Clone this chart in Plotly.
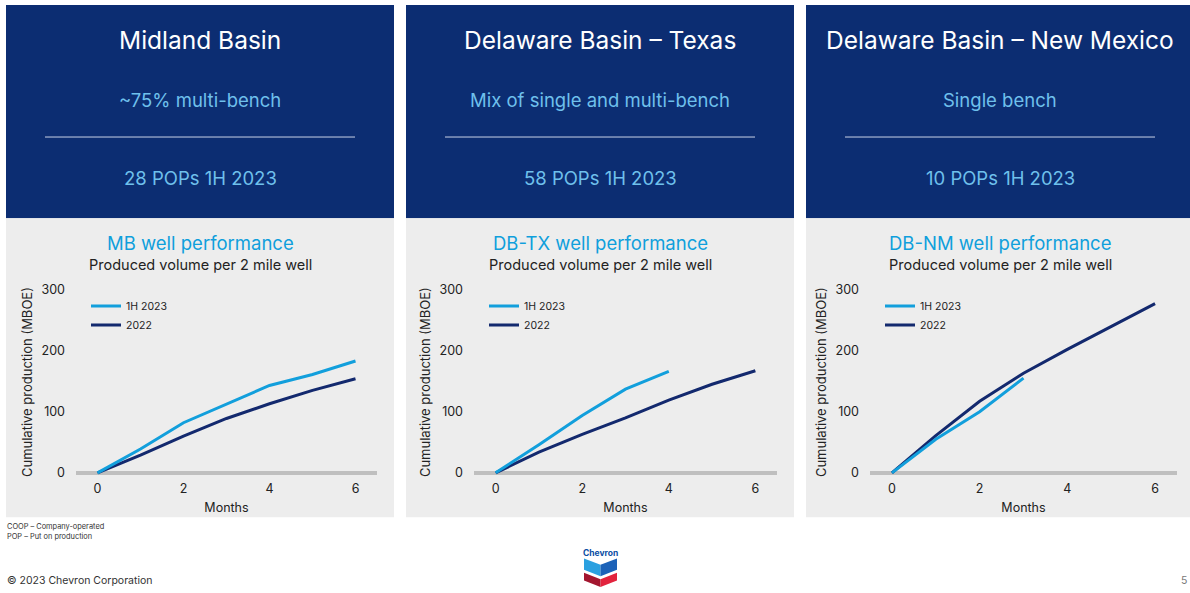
import plotly.graph_objects as go

# ---- data -------------------------------------------------------------
months = [0, 1, 2, 3, 4, 5, 6]

mb_1h2023 = [0, 39, 82, 113, 143, 161, 183]
mb_2022 = [0, 29, 60, 89, 113, 135, 154]

dbtx_1h2023 = [0, 46, 94, 137, 166]
dbtx_2022 = [0, 34, 63, 90, 119, 145, 167]

dbnm_1h2023 = [0, 55, 100, 155]
dbnm_2022 = [0, 61, 117, 163, 202, 240, 277]

y_ticks = [0, 100, 200, 300]
x_ticks = [0, 2, 4, 6]

basins = ["Midland Basin", "Delaware Basin – Texas", "Delaware Basin – New Mexico"]
bench_mix = ["~75% multi-bench", "Mix of single and multi-bench", "Single bench"]
pops = ["28 POPs 1H 2023", "58 POPs 1H 2023", "10 POPs 1H 2023"]
chart_titles = ["MB well performance", "DB-TX well performance", "DB-NM well performance"]
chart_subtitle = "Produced volume per 2 mile well"
series_names = ["1H 2023", "2022"]

# ---- styling ----------------------------------------------------------
W, H = 1190, 593
FONT = "Inter"
NAVY = "#0c2d72"
LIGHT_TEXT = "#6fc0ec"
TITLE_BLUE = "#0f9fdc"
LINE_NEW = "#129fdc"
LINE_OLD = "#13296e"
PANEL_GRAY = "#ededed"
TEXT = "#222222"


def px(x):
    return x / W


def py(y):
    return 1 - y / H


fig = go.Figure()

panel_left = [6, 406, 806]
panel_width = 388
plot_x = [(76, 377), (474, 777), (870, 1177)]
plot_y = (284.8, 478.4)

series = [
    (months, mb_1h2023, months, mb_2022),
    (months[:len(dbtx_1h2023)], dbtx_1h2023, months, dbtx_2022),
    (months[:len(dbnm_1h2023)], dbnm_1h2023, months, dbnm_2022),
]

shapes = []
annotations = []

for i in range(3):
    left = panel_left[i]
    cx = left + panel_width / 2
    # header box and chart background
    shapes.append(dict(type="rect", xref="paper", yref="paper",
                       x0=px(left), x1=px(left + panel_width), y0=py(215.8), y1=py(0),
                       fillcolor=NAVY, line=dict(width=0), layer="below"))
    shapes.append(dict(type="rect", xref="paper", yref="paper",
                       x0=px(left), x1=px(left + panel_width), y0=py(518.4), y1=py(215.8),
                       fillcolor=PANEL_GRAY, line=dict(width=0), layer="below"))
    shapes.append(dict(type="line", xref="paper", yref="paper",
                       x0=px(left + 39), x1=px(left + 349), y0=py(133.6), y1=py(133.6),
                       line=dict(color="#c9d2e6", width=1)))
    annotations += [
        dict(text=basins[i], x=px(cx), y=py(35.1), font=dict(size=24.5, color="white")),
        dict(text=bench_mix[i], x=px(cx), y=py(96), font=dict(size=18.5, color=LIGHT_TEXT)),
        dict(text=pops[i], x=px(cx), y=py(175.2), font=dict(size=18.5, color=LIGHT_TEXT)),
        dict(text=chart_titles[i], x=px(cx), y=py(241.2), font=dict(size=18.5, color=TITLE_BLUE)),
        dict(text=chart_subtitle, x=px(cx), y=py(262.5), font=dict(size=14.5, color=TEXT)),
    ]

    sfx = "" if i == 0 else str(i + 1)
    legend_name = "legend" + sfx
    x_new, y_new, x_old, y_old = series[i]
    fig.add_trace(go.Scatter(x=x_old, y=y_old, mode="lines", name=series_names[1],
                             line=dict(color=LINE_OLD, width=3), legend=legend_name,
                             legendrank=2, xaxis="x" + sfx, yaxis="y" + sfx))
    fig.add_trace(go.Scatter(x=x_new, y=y_new, mode="lines", name=series_names[0],
                             line=dict(color=LINE_NEW, width=3), legend=legend_name,
                             legendrank=1, xaxis="x" + sfx, yaxis="y" + sfx))

    x0, x1 = plot_x[i]
    fig.layout["xaxis" + sfx] = dict(
        domain=[px(x0), px(x1)], range=[-0.5, 6.5], anchor="y" + sfx,
        tickvals=x_ticks, showgrid=False, zeroline=False, showline=False,
        tickfont=dict(size=12.5, color=TEXT), ticklabelstandoff=2,
        title=dict(text="Months", font=dict(size=12.5, color=TEXT), standoff=7),
        fixedrange=True,
    )
    fig.layout["yaxis" + sfx] = dict(
        domain=[py(plot_y[1]), py(plot_y[0])], range=[-8, 305], anchor="x" + sfx,
        tickvals=y_ticks, showgrid=False, showline=False,
        zeroline=True, zerolinecolor="#bfbfbf", zerolinewidth=4,
        tickfont=dict(size=12.5, color=TEXT), ticklabelstandoff=10,
        title=dict(text="Cumulative production (MBOE)", font=dict(size=13, color=TEXT),
                   standoff=5),
        fixedrange=True,
    )
    fig.layout[legend_name] = dict(
        x=px(x0 + 10), y=py(290), xanchor="left", yanchor="top",
        bgcolor="rgba(0,0,0,0)", borderwidth=0,
        font=dict(size=10.5, color=TEXT), itemclick=False, itemdoubleclick=False,
    )

# footnotes
annotations += [
    dict(text="COOP – Company-operated", x=px(5), y=py(527.5), xanchor="left",
         font=dict(size=7.4, color="#333333")),
    dict(text="POP – Put on production", x=px(5), y=py(537.7), xanchor="left",
         font=dict(size=7.4, color="#333333")),
    dict(text="© 2023 Chevron Corporation", x=px(5), y=py(582.3), xanchor="left",
         font=dict(size=10.5, color="#333333")),
    dict(text="5", x=px(1189), y=py(582.3), xanchor="right",
         font=dict(size=10.5, color="#777777")),
    dict(text="<b>Chevron</b>", x=px(600.5), y=py(555), font=dict(size=8.5, color="#0a4ea3")),
]


# hallmark logo built from four quadrilaterals
def poly(points, color):
    path = "M " + " L ".join(f"{px(a):.5f},{py(b):.5f}" for a, b in points) + " Z"
    return dict(type="path", xref="paper", yref="paper", path=path,
                fillcolor=color, line=dict(width=0))


shapes += [
    poly([(584, 560), (600.5, 566.5), (600.5, 578), (584, 571.5)], "#2aa0e0"),
    poly([(600.5, 566.5), (617, 560), (617, 571.5), (600.5, 578)], "#1c62b8"),
    poly([(584, 574.5), (600.5, 581), (600.5, 589), (584, 582.5)], "#a3162f"),
    poly([(600.5, 581), (617, 574.5), (617, 582.5), (600.5, 589)], "#e2233d"),
]

for a in annotations:
    a.setdefault("xref", "paper")
    a.setdefault("yref", "paper")
    a.setdefault("showarrow", False)
    a.setdefault("xanchor", "center")
    a.setdefault("yanchor", "middle")

fig.update_layout(
    width=W, height=H, margin=dict(l=0, r=0, t=0, b=0),
    paper_bgcolor="white", plot_bgcolor="rgba(0,0,0,0)",
    font=dict(family=FONT, color=TEXT),
    shapes=shapes, annotations=annotations, showlegend=True,
)

fig.write_html("out.html", config={"displayModeBar": False})
